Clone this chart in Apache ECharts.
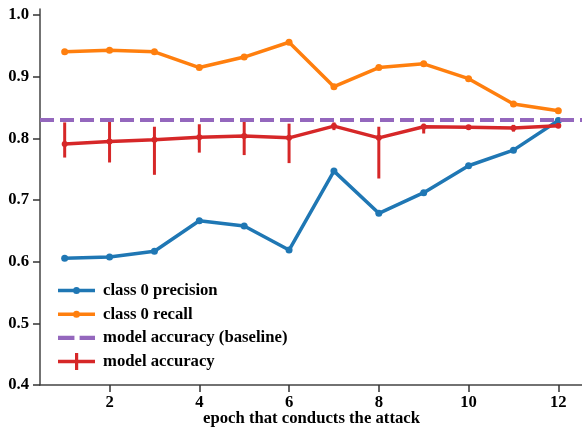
<!DOCTYPE html>
<html>
<head>
<meta charset="utf-8">
<script src="https://cdn.jsdelivr.net/npm/echarts@6/dist/echarts.min.js"></script>
<style>
html,body{margin:0;padding:0;background:#fff;}
#c{width:582px;height:427px;}
</style>
</head>
<body>
<div id="c"></div>
<script>
const epochs = [1, 2, 3, 4, 5, 6, 7, 8, 9, 10, 11, 12];
const precision = [0.6055, 0.6076, 0.617, 0.6665, 0.658, 0.619, 0.747, 0.6785, 0.712, 0.7557, 0.781, 0.829];
const recall = [0.9405, 0.943, 0.9405, 0.915, 0.932, 0.956, 0.884, 0.915, 0.921, 0.897, 0.856, 0.845];
const baseline = 0.829;
const accuracy = [0.791, 0.795, 0.798, 0.802, 0.804, 0.801, 0.820, 0.801, 0.819, 0.818, 0.817, 0.8205];
const accLow = [0.769, 0.761, 0.741, 0.777, 0.773, 0.760, 0.8135, 0.735, 0.808, 0.815, 0.811, 0.818];
const accHigh = [0.826, 0.827, 0.819, 0.823, 0.829, 0.824, 0.826, 0.819, 0.824, 0.821, 0.822, 0.823];
const xTicks = [2, 4, 6, 8, 10, 12];
const yTicks = [0.4, 0.5, 0.6, 0.7, 0.8, 0.9, 1.0];
const names = ['class 0 precision', 'class 0 recall', 'model accuracy (baseline)', 'model accuracy'];
const xTitle = 'epoch that conducts the attack';

const FONT = '"Liberation Serif", "Times New Roman", serif';
const BLUE = '#1f77b4', ORANGE = '#ff7f0e', PURPLE = '#9467bd', RED = '#d62728';

const pair = (xs, ys) => xs.map((x, i) => [x, ys[i]]);

const chart = echarts.init(document.getElementById('c'), null, {renderer: 'canvas'});
chart.setOption({
  animation: false,
  backgroundColor: '#fff',
  grid: {left: 40, top: 9, width: 543, bottom: 42, containLabel: false, outerBoundsMode: 'none'},
  xAxis: {
    type: 'value', min: 0.45, max: 12.55,
    name: xTitle, nameLocation: 'middle', nameGap: 25, nameMoveOverlap: false,
    nameTextStyle: {fontFamily: FONT, fontWeight: 'bold', fontSize: 16.7, color: '#000'},
    splitLine: {show: false},
    axisLine: {show: true, lineStyle: {color: '#444', width: 1.5}},
    axisTick: {show: true, length: 7, inside: false, customValues: xTicks, lineStyle: {color: '#333', width: 1.5}},
    axisLabel: {customValues: xTicks, margin: 9, fontFamily: FONT, fontWeight: 'bold', fontSize: 16.7, color: '#000'}
  },
  yAxis: {
    type: 'value', min: 0.4, max: 1.01,
    splitLine: {show: false},
    axisLine: {show: true, lineStyle: {color: '#444', width: 1.5}},
    axisTick: {show: true, length: 7, inside: false, customValues: yTicks, lineStyle: {color: '#333', width: 1.5}},
    axisLabel: {customValues: yTicks, margin: 11, fontFamily: FONT, fontWeight: 'bold', fontSize: 16.7, color: '#000',
      formatter: v => v.toFixed(1)}
  },
  legend: {
    orient: 'vertical', left: 53, top: 277,
    itemWidth: 37, itemHeight: 17, itemGap: 6.7,
    symbolKeepAspect: true,
    itemStyle: {borderWidth: 0},
    textStyle: {fontFamily: FONT, fontWeight: 'bold', fontSize: 16.7, color: '#000', lineHeight: 17, padding: [0, 0, 0, 3]},
    selectedMode: false,
    data: [
      {name: names[0], icon: 'path://M0,6.75h37v3.5h-37z M15,8.5a3.5,3.5 0 1,1 7,0a3.5,3.5 0 1,1 -7,0z'},
      {name: names[1], icon: 'path://M0,6.75h37v3.5h-37z M15,8.5a3.5,3.5 0 1,1 7,0a3.5,3.5 0 1,1 -7,0z'},
      {name: names[2], icon: 'path://M1,0h16v4h-16z M22,0h15v4h-15z'},
      {name: names[3], icon: 'path://M0,6.75h37v3.5h-37z M17,0h3.2v17h-3.2z'}
    ]
  },
  series: [
    {
      name: names[0], type: 'line', data: pair(epochs, precision),
      symbol: 'circle', symbolSize: 7, color: BLUE,
      lineStyle: {width: 3.5, color: BLUE}, itemStyle: {color: BLUE}, emphasis: {disabled: true}, z: 2
    },
    {
      name: names[1], type: 'line', data: pair(epochs, recall),
      symbol: 'circle', symbolSize: 7, color: ORANGE,
      lineStyle: {width: 3.5, color: ORANGE}, itemStyle: {color: ORANGE}, emphasis: {disabled: true}, z: 2
    },
    {
      name: names[2], type: 'line', data: [], color: PURPLE,
      itemStyle: {color: PURPLE}, lineStyle: {color: PURPLE},
      markLine: {
        silent: true, symbol: ['none', 'none'], label: {show: false},
        lineStyle: {color: PURPLE, width: 4, type: [14, 6]},
        data: [{yAxis: baseline}]
      },
      z: 3
    },
    {
      name: 'errorbars', type: 'custom',
      data: epochs.map((x, i) => [x, accLow[i], accHigh[i]]),
      encode: {x: 0, y: [1, 2]},
      renderItem: function (params, api) {
        const p1 = api.coord([api.value(0), api.value(1)]);
        const p2 = api.coord([api.value(0), api.value(2)]);
        return {type: 'line', shape: {x1: p1[0], y1: p1[1], x2: p2[0], y2: p2[1]},
          style: {stroke: RED, lineWidth: 3}};
      },
      z: 4
    },
    {
      name: names[3], type: 'line', data: pair(epochs, accuracy),
      symbol: 'circle', symbolSize: 6, color: RED,
      lineStyle: {width: 3.5, color: RED}, itemStyle: {color: RED}, emphasis: {disabled: true}, z: 5
    }
  ]
});
</script>
</body>
</html>
